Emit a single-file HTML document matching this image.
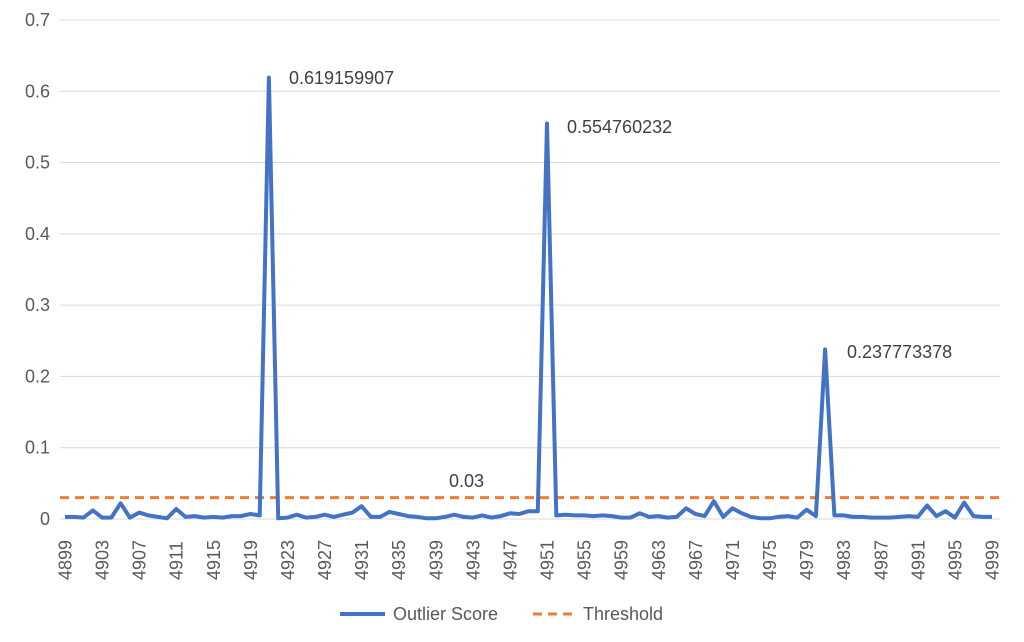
<!DOCTYPE html>
<html><head><meta charset="utf-8"><style>
body{margin:0;background:#fff;}
svg{display:block;font-family:"Liberation Sans",sans-serif;}
</style></head><body>
<svg id="s" width="1024" height="642" xmlns="http://www.w3.org/2000/svg">
<g id="grid" stroke="#d9d9d9" stroke-width="1"></g>
<g id="yl" fill="#595959" font-size="18" text-anchor="end"></g>
<g id="xl" fill="#595959" font-size="18"></g>
<line x1="60" y1="497.6" x2="1000" y2="497.6" stroke="#ed7d31" stroke-width="3" stroke-dasharray="9,6"/>
<polyline id="pl" fill="none" stroke="#4472c4" stroke-width="4" stroke-linejoin="round"/>
<g fill="#404040" font-size="18">
<text x="289" y="84">0.619159907</text>
<text x="567" y="133">0.554760232</text>
<text x="847" y="358">0.237773378</text>
<text x="449" y="487">0.03</text>
</g>
<line x1="340" y1="614" x2="385" y2="614" stroke="#4472c4" stroke-width="4"/>
<text x="393" y="620" fill="#595959" font-size="18">Outlier Score</text>
<line x1="533" y1="614" x2="578" y2="614" stroke="#ed7d31" stroke-width="3" stroke-dasharray="9,6"/>
<text x="583" y="620" fill="#595959" font-size="18">Threshold</text>
</svg>
<script>
var ns="http://www.w3.org/2000/svg";
function el(t,a,p,txt){var e=document.createElementNS(ns,t);for(var k in a)e.setAttribute(k,a[k]);if(txt!=null)e.textContent=txt;document.getElementById(p).appendChild(e);return e;}
function Y(v){return 519-v*712.9;}
for(var i=0;i<=7;i++){var y=Y(i/10);el('line',{x1:60,x2:1000,y1:y,y2:y},'grid');el('text',{x:50,y:y+6},'yl',i==0?'0':(i/10).toFixed(1));}
var vals=[3,3,2,12,2,2,22,2,9,5,3,1,14,3,4,2,3,2,4,4,7,5];
vals=vals.concat([619,1,2,6,2,3,6,3,6,9,18,3,3,10,7,4,3,1,1,3,6,3,2,5,2,4,8,7,11,11]);
vals=vals.slice(0,52);vals.push(555);
vals=vals.concat([5,6,5,5,4,5,4,2,2,8,3,4,2,3,15,7,4,25,3,15,8,3,1,1,3,4,2,13,4,10]);
vals=vals.slice(0,82);vals.push(238);
vals=vals.concat([5,5,3,3,2,2,2,3,4,3,19,4,11,2,23,4,3,3]);
while(vals.length<101)vals.push(3);vals=vals.slice(0,101);
vals[22]=619.16;vals[52]=554.76;vals[82]=237.77;
var pts=[];for(var i=0;i<101;i++){var x=65+i*9.27;pts.push(x.toFixed(1)+','+Y(vals[i]/1000).toFixed(1));}
document.getElementById('pl').setAttribute('points',pts.join(' '));
for(var i=0;i<101;i+=4){var x=65+i*9.27;el('text',{x:0,y:0,transform:'translate('+(x+6.5)+',580) rotate(-90)'},'xl',String(4899+i));}
</script>
</body></html>
